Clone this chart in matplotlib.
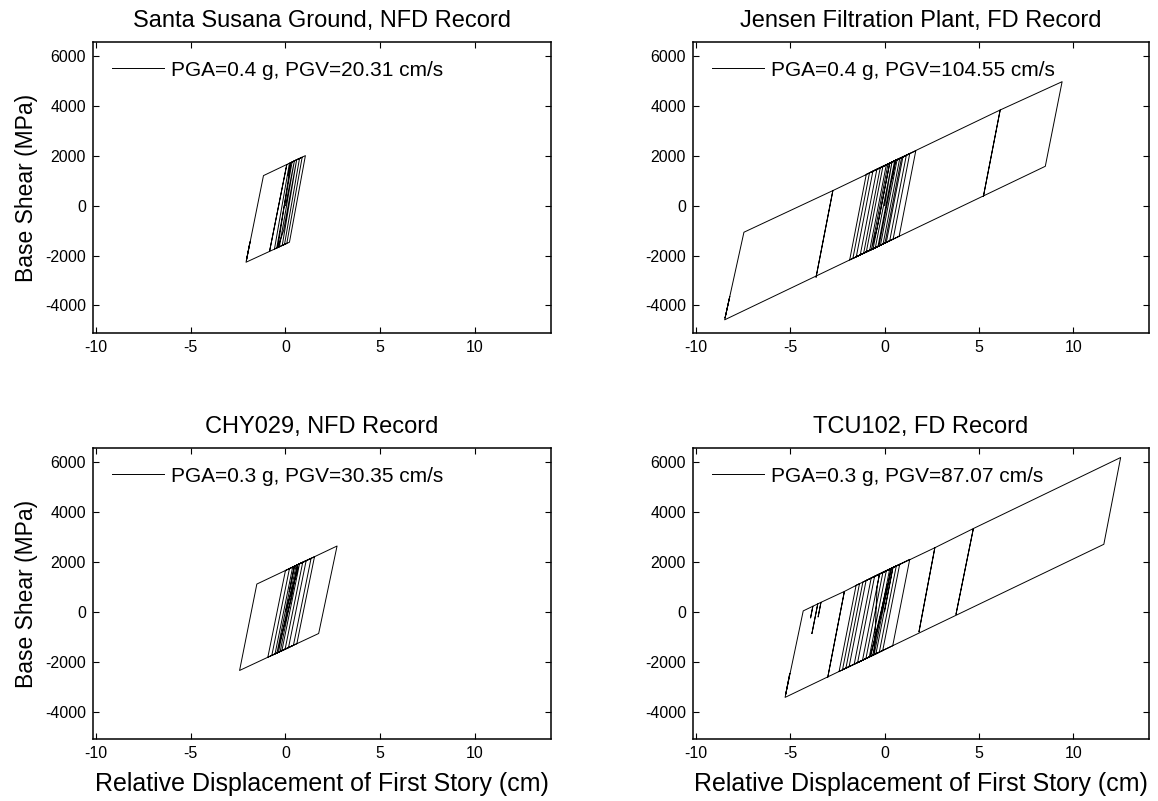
import numpy as np
import matplotlib
matplotlib.use("Agg")
import matplotlib.pyplot as plt

plt.rcParams["font.family"] = ["Liberation Sans", "DejaVu Sans"]
plt.rcParams["axes.unicode_minus"] = False

# displacement (cm) / base shear turning points of each response history
santa_x = [0.0, 0.47, -0.32, -0.58, 0.21, 0.74, -0.05, -0.46, 0.35, 0.88, 0.07, -0.84, 0.07,
           -0.84, -2.08, -1.87, -2.06, -1.16, 1.05, 0.21, -0.17, 0.59, -0.10, -0.40, 0.28,
           0.14]
santa_y = [0, 1790, -1646, -1737, 1696, 1888, -1551, -1695, 1747, 1938, -1516, -1834, 1645,
           -1834, -2268, -1450, -2200, 1200, 2000, -1467, -1593, 1834, -1000, -1670, 1720,
           1200]

jensen_x = [0.0, 0.39, -0.49, -0.97, -0.09, 0.80, -0.08, -1.29, -0.41, 0.97, 0.09, -0.79, 0.09,
            1.15, 0.27, -1.68, -0.80, 1.65, 0.77, -1.85, -0.97, 6.12, 5.23, 6.12, 9.40, 8.51,
            -8.47, -8.20, -8.45, -7.45, -2.74, -3.63, -2.74, 1.33, 0.45, -1.50, -0.62, 0.53,
            -0.35, -1.11, -0.23, 0.66, -0.22, -0.61, 0.27, 0.05, -0.40, -0.70, 0.18, 0.90,
            0.02, -0.30, 0.58, 0.40]
jensen_y = [0, 1740, -1684, -1858, 1568, 1886, -1536, -1974, 1453, 1947, -1474, -1793, 1632,
            2012, -1409, -2115, 1314, 2191, -1228, -2177, 1253, 3827, 360, 3827, 4960, 1573,
            -4573, -3640, -4500, -1067, 600, -2867, 600, 2076, -1344, -2050, 1378, 1790,
            -1634, -1909, 1518, 1836, -1587, -1728, 1697, 840, -920, -1760, 1665, 1922,
            -1500, -1615, 1808, 1100]

chy_x = [0.0, 0.74, -0.19, -0.72, 0.21, 1.09, 0.16, -0.37, 0.56, 1.53, 0.60, -0.55, 0.38,
         1.70, 2.72, 1.75, -2.42, -1.51, 1.35, 0.42, -0.93, 0.0, 0.91, -0.02, -0.28, 0.64,
         0.30, -0.45, 0.47, 0.20]
chy_y = [0, 1913, -1564, -1752, 1722, 2039, -1440, -1628, 1848, 2197, -1284, -1692, 1783,
         2259, 2626, -876, -2356, 1103, 2133, -1348, -1827, 1647, 1974, -1504, -1600, 1880,
         500, -1660, 1815, 800]

tcu_x = [0.0, 0.44, -0.46, -0.99, -0.09, 0.80, -0.10, -1.61, -0.71, 0.62, -0.28, -2.05, -1.15,
         0.27, -0.63, -1.43, -0.53, 1.33, 0.43, -2.41, -1.51, 2.66, 1.82, 2.66, 4.70, 3.78,
         4.70, 12.50, 11.61, -5.27, -5.02, -5.24, -4.31, -3.80, -3.92, -3.80, -3.54, -3.85,
         -3.54, -3.37, -3.52, -3.37, -2.13, -3.01, -2.13, -1.33, -2.23, -1.88, -0.98, 0.09,
         -0.81, -1.17, -0.27, -0.40, -0.55, 0.35, 0.10, -0.75, 0.15]
tcu_y = [0, 1766, -1688, -1880, 1572, 1898, -1557, -2105, 1345, 1832, -1623, -2265, 1184,
         1704, -1750, -2040, 1411, 2092, -1365, -2396, 1052, 2557, -808, 2557, 3325, -109,
         3325, 6169, 2695, -3434, -2470, -3320, 28, 215, -250, 215, 310, -880,
         310, 372, -210, 372, 808, -2626, 808, 1118, -2330, -2203, 1246, 1638,
         -1815, -1946, 1506, 990, -1700, 1735, 770, -1790, 1100]

titles = ["Santa Susana Ground, NFD Record", "Jensen Filtration Plant, FD Record",
          "CHY029, NFD Record", "TCU102, FD Record"]
labels = ["PGA=0.4 g, PGV=20.31 cm/s", "PGA=0.4 g, PGV=104.55 cm/s",
          "PGA=0.3 g, PGV=30.35 cm/s", "PGA=0.3 g, PGV=87.07 cm/s"]
records = [(santa_x, santa_y), (jensen_x, jensen_y), (chy_x, chy_y), (tcu_x, tcu_y)]

xticks = [-10, -5, 0, 5, 10]
yticks = [-4000, -2000, 0, 2000, 4000, 6000]

fig = plt.figure(figsize=(11.58, 8.01), dpi=100, facecolor="white")
boxes = [[0.0803, 0.5843, 0.3955, 0.3633], [0.5984, 0.5843, 0.3938, 0.3633],
         [0.0803, 0.0774, 0.3955, 0.3633], [0.5984, 0.0774, 0.3938, 0.3633]]

for i, (box, (x, y)) in enumerate(zip(boxes, records)):
    ax = fig.add_axes(box)
    ax.plot(x, y, color="black", lw=0.7, label=labels[i])
    ax.set_xlim(-10.15, 14)
    ax.set_ylim(-5100, 6550)
    ax.set_xticks(xticks)
    ax.set_yticks(yticks)
    ax.tick_params(direction="in", top=True, right=True, length=4, width=0.8,
                   labelsize=11.5, pad=5)
    for s in ax.spines.values():
        s.set_linewidth(1.1)
    ax.set_title(titles[i], fontsize=17, pad=11)
    ax.legend(loc="upper left", frameon=False, fontsize=15, handlelength=2.5,
              handletextpad=0.35)
    if i % 2 == 0:
        ax.set_ylabel("Base Shear (MPa)", fontsize=16.5, labelpad=5)
    if i >= 2:
        ax.set_xlabel("Relative Displacement of First Story (cm)", fontsize=18, labelpad=8)

fig.savefig("out.png", dpi=100)
